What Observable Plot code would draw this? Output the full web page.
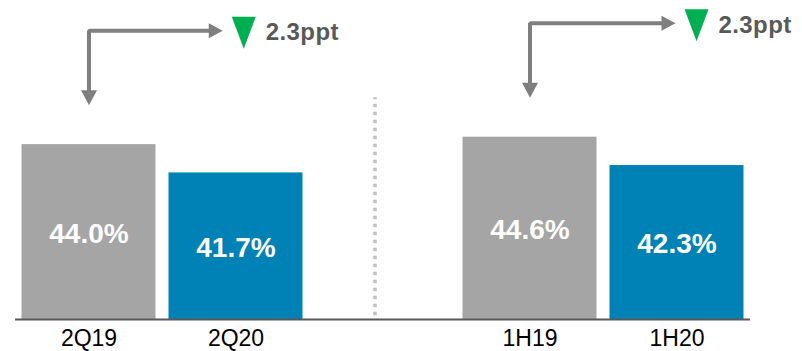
<!DOCTYPE html>
<html>
<head>
<meta charset="utf-8">
<script src="https://cdn.jsdelivr.net/npm/d3@7"></script>
<script src="https://cdn.jsdelivr.net/npm/@observablehq/plot@0.6"></script>
<style>
  html, body { margin: 0; padding: 0; background: #fff; }
  #chart { width: 802px; height: 351px; }
</style>
</head>
<body>
<div id="chart"></div>
<script>
// ---- data ----
const categories = ["2Q19", "2Q20", "", "1H19", "1H20"];
const values = [44.0, 41.7, null, 44.6, 42.3];
const series = ["prior", "current", null, "prior", "current"];
const comparisonFrom = ["2Q19", "1H19"];
const comparisonTo = ["2Q20", "1H20"];

// ---- layout / style constants ----
const fontFamily = "'Liberation Sans', Arial, Helvetica, sans-serif";
const yBase = 29.8, yTop = 55.7;
const annShift = [0, 0.08];

const bars = categories
  .map((cat, i) => ({cat, i, value: values[i], series: series[i]}))
  .filter(d => d.value != null);
const gapIndex = categories.indexOf("");

const ann = comparisonFrom.map((f, k) => {
  const i = categories.indexOf(f), j = categories.indexOf(comparisonTo[k]);
  return {
    xc: i + 0.5,
    xt: j + 0.41 + annShift[k],
    corner: values[i] + 9.25,
    tip: values[i] + 3.2,
    change: values[i] - values[j]
  };
});

const headDown = {draw(c) { c.moveTo(-8, -15); c.lineTo(8, -15); c.lineTo(0, 0); c.closePath(); }};
const headRight = {draw(c) { c.moveTo(-14, -7.5); c.lineTo(-14, 7.5); c.lineTo(0, 0); c.closePath(); }};
const greenTri = {draw(c) { c.moveTo(-12, 0); c.lineTo(12, 0); c.lineTo(0, 32); c.closePath(); }};

const chart = Plot.plot({
  width: 802,
  height: 351,
  marginLeft: 15,
  marginRight: 52,
  marginTop: 0,
  marginBottom: 32,
  style: {fontFamily, background: "white", color: "black"},
  x: {domain: [0, categories.length]},
  y: {domain: [yBase, yTop], axis: null},
  color: {domain: ["prior", "current"], range: ["#A5A5A5", "#0082B6"]},
  marks: [
    Plot.rectY(bars, {
      x1: d => d.i, x2: d => d.i + 1,
      y1: () => yBase, y2: "value",
      fill: "series", insetLeft: 6.5, insetRight: 6.5
    }),
    Plot.text(bars, {
      x: d => d.i + 0.5, y: d => (yBase + d.value) / 2,
      text: d => d3.format(".1f")(d.value) + "%",
      fill: "white", fontSize: 28, fontWeight: "bold", dy: 2
    }),
    Plot.ruleY([yBase], {stroke: "#595959", strokeWidth: 2}),
    Plot.axisX(bars.map(d => d.i + 0.5), {
      tickFormat: t => categories[Math.floor(t)],
      tickSize: 0, tickPadding: 10, fontSize: 23, fill: "black", label: null
    }),
    Plot.ruleX([gapIndex + 0.5], {
      y1: () => yBase + 0.3, y2: () => 47.8, dx: -8,
      stroke: "#BFBFBF", strokeWidth: 3.5, strokeDasharray: "3.5,4.5"
    }),
    Plot.line(ann.flatMap((a, k) => [
      {x: a.xc, y: a.tip + 0.6, k},
      {x: a.xc, y: a.corner, k},
      {x: a.xt - 0.05, y: a.corner, k}
    ]), {x: "x", y: "y", z: "k", stroke: "#7F7F7F", strokeWidth: 4,
         strokeLinejoin: "miter", strokeLinecap: "butt"}),
    Plot.dot(ann, {x: "xc", y: "tip", symbol: headDown, fill: "#7F7F7F", stroke: "none"}),
    Plot.dot(ann, {x: "xt", y: "corner", symbol: headRight, fill: "#7F7F7F", stroke: "none"}),
    Plot.dot(ann, {x: "xt", y: "corner", dx: 21, dy: -14, symbol: greenTri, fill: "#00B050", stroke: "none"}),
    Plot.text(ann, {
      x: "xt", y: "corner", dx: 43, dy: 2,
      text: d => d3.format(".1f")(d.change) + "ppt",
      textAnchor: "start", fontSize: 24, fontWeight: "bold", fill: "#595959"
    })
  ]
});

d3.select(chart).selectAll("text")
  .filter(function() { return this.textContent.endsWith("ppt"); })
  .style("letter-spacing", "0.4px");

document.getElementById("chart").appendChild(chart);
</script>
</body>
</html>
